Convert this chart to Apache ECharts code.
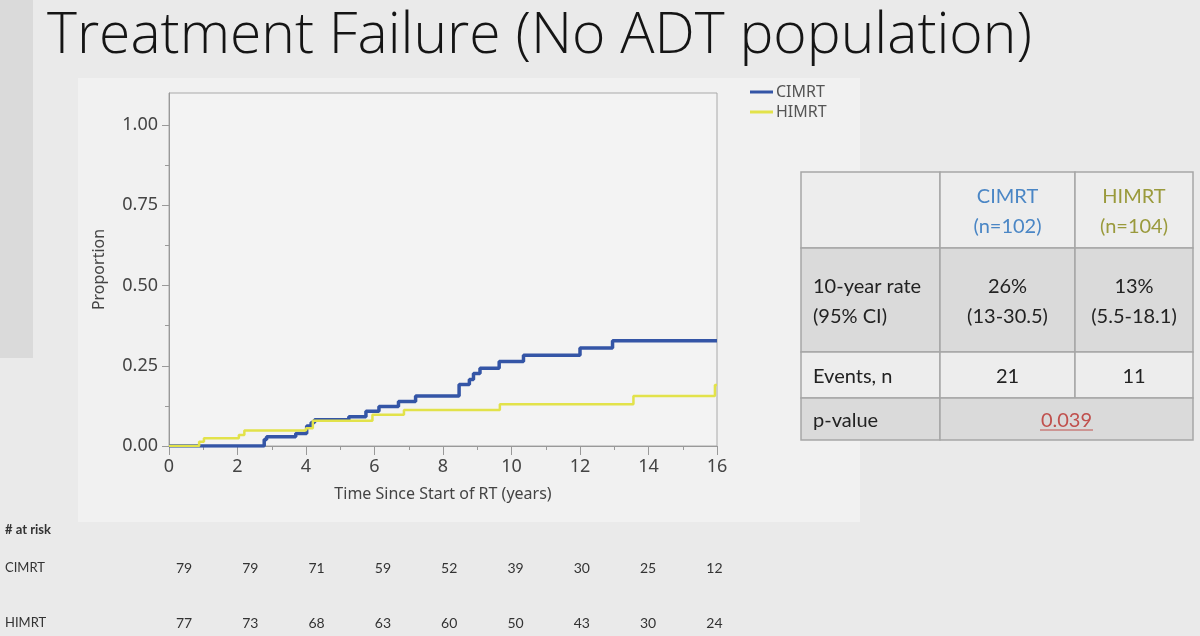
<!DOCTYPE html>
<html>
<head>
<meta charset="utf-8">
<script src="https://cdn.jsdelivr.net/npm/echarts@6/dist/echarts.min.js"></script>
<style>
  html, body { margin: 0; padding: 0; background: #eaeaea; }
  #chart { width: 1200px; height: 636px; }
</style>
</head>
<body>
<div id="chart"></div>
<script>
// step curves (time in years, cumulative proportion failed)
const cimrtTime = [0, 2.78, 2.85, 3.7, 4.02, 4.15, 4.25, 5.25, 5.75, 6.13, 6.7, 7.2, 8.47, 8.77, 8.89, 9.08, 9.64, 10.35, 12.0, 12.95, 16];
const cimrtValue = [0, 0.02, 0.029, 0.039, 0.062, 0.073, 0.082, 0.091, 0.108, 0.123, 0.139, 0.156, 0.192, 0.207, 0.226, 0.242, 0.263, 0.283, 0.305, 0.328, 0.328];
const himrtTime = [0, 0.88, 1.02, 2.04, 2.2, 4.0, 4.2, 5.94, 6.86, 9.66, 13.56, 15.94, 16];
const himrtValue = [0, 0.013, 0.024, 0.034, 0.048, 0.055, 0.079, 0.097, 0.112, 0.13, 0.156, 0.19, 0.19];

const yTicks = [0, 0.25, 0.5, 0.75, 1];
const yMinorTicks = [0.125, 0.375, 0.625, 0.875];

// summary table
const tableHead = ['', 'CIMRT\n(n=102)', 'HIMRT\n(n=104)'];
const tableRows = [
  ['10-year rate\n(95% CI)', '26%\n(13-30.5)', '13%\n(5.5-18.1)'],
  ['Events, n', '21', '11']
];
const pLabel = 'p-value';
const pValue = '0.039';

// numbers at risk
const atRiskCimrt = [79, 79, 71, 59, 52, 39, 30, 25, 12];
const atRiskHimrt = [77, 73, 68, 63, 60, 50, 43, 30, 24];

const pair = (xs, ys) => xs.map((x, i) => [x, ys[i]]);

const tableFont = 'Lato, "Open Sans", sans-serif';
const axisFont = '"Noto Sans", sans-serif';
const colX = [801, 940, 1075, 1193];
const rowY = [172, 248, 352, 398, 440];
const rowFill = ['#ededed', '#dadada', '#ededed', '#dadada'];
const headColor = ['#333', '#4a86c5', '#9a9a3c'];

const g = [];
// left sidebar and chart panel
g.push({ type: 'rect', shape: { x: 0, y: 0, width: 33, height: 358 }, style: { fill: '#dadada' }, z: -10 });
g.push({ type: 'rect', shape: { x: 78, y: 78, width: 782, height: 444 }, style: { fill: '#f1f1f1' }, z: -10 });

// table cells
function cell(x0, x1, y0, y1, fill, text, color, align) {
  g.push({ type: 'rect', shape: { x: x0, y: y0, width: x1 - x0, height: y1 - y0 },
    style: { fill: fill, stroke: '#a6a6a6', lineWidth: 1.5 }, z: 1 });
  g.push({ type: 'text', x: align === 'left' ? x0 + 12 : (x0 + x1) / 2, y: (y0 + y1) / 2 + 2,
    style: { text: text, fill: color, font: '20px ' + tableFont, align: align,
      verticalAlign: 'middle', lineHeight: 30 }, z: 2 });
}
tableHead.forEach((t, c) => cell(colX[c], colX[c + 1], rowY[0], rowY[1], rowFill[0], t, headColor[c], c === 0 ? 'left' : 'center'));
tableRows.forEach((row, r) => row.forEach((t, c) =>
  cell(colX[c], colX[c + 1], rowY[r + 1], rowY[r + 2], rowFill[r + 1], t, '#222', c === 0 ? 'left' : 'center')));
cell(colX[0], colX[1], rowY[3], rowY[4], rowFill[3], pLabel, '#222', 'left');
cell(colX[1], colX[3], rowY[3], rowY[4], rowFill[3], pValue, '#c0504d', 'center');
g.push({ type: 'line', shape: { x1: 1040, y1: 430, x2: 1093, y2: 430 }, style: { stroke: '#c0504d', lineWidth: 1.2 }, z: 3 });

// at-risk table
g.push({ type: 'text', x: 5, y: 530, style: { text: '# at risk', font: 'bold 13px ' + tableFont, fill: '#333', verticalAlign: 'middle' } });
g.push({ type: 'text', x: 5, y: 568, style: { text: 'CIMRT', font: '13px ' + tableFont, fill: '#333', verticalAlign: 'middle' } });
g.push({ type: 'text', x: 5, y: 623, style: { text: 'HIMRT', font: '13px ' + tableFont, fill: '#333', verticalAlign: 'middle' } });
atRiskCimrt.forEach((n, i) => g.push({ type: 'text', x: 184 + i * 66.3, y: 568,
  style: { text: String(n), font: '14px ' + tableFont, fill: '#333', align: 'center', verticalAlign: 'middle' } }));
atRiskHimrt.forEach((n, i) => g.push({ type: 'text', x: 184 + i * 66.3, y: 623,
  style: { text: String(n), font: '14px ' + tableFont, fill: '#333', align: 'center', verticalAlign: 'middle' } }));

const chart = echarts.init(document.getElementById('chart'));
chart.setOption({
  backgroundColor: '#eaeaea',
  animation: false,
  title: {
    text: 'Treatment Failure (No ADT population)',
    left: 42, top: 3,
    textStyle: { fontFamily: '"Open Sans", sans-serif', fontWeight: 300, fontSize: 57, color: '#151515' }
  },
  legend: {
    data: ['CIMRT', 'HIMRT'],
    orient: 'vertical',
    left: 745, top: 79,
    icon: 'rect', itemWidth: 23, itemHeight: 3, itemGap: 4,
    textStyle: { fontFamily: axisFont, fontSize: 16, color: '#555', padding: [0, 0, 0, -2] }
  },
  grid: {
    left: 169, right: 483, top: 93, bottom: 190,
    show: true, borderColor: '#a9a9a9', borderWidth: 1, backgroundColor: '#f3f3f3'
  },
  xAxis: {
    type: 'value', min: 0, max: 16, interval: 2,
    name: 'Time Since Start of RT (years)', nameLocation: 'middle', nameGap: 40,
    nameTextStyle: { fontFamily: axisFont, fontSize: 16, color: '#444' },
    axisLine: { show: true, lineStyle: { color: '#999' } },
    axisTick: { show: true, length: 9, lineStyle: { color: '#999' } },
    minorTick: { show: true, splitNumber: 2, length: 4, lineStyle: { color: '#999' } },
    splitLine: { show: false },
    axisLabel: { fontFamily: axisFont, fontSize: 18, color: '#444', margin: 12 }
  },
  yAxis: [
    {
      type: 'value', min: 0, max: 1.1,
      name: 'Proportion', nameLocation: 'middle', nameGap: 62, nameRotate: 90,
      nameTextStyle: { fontFamily: axisFont, fontSize: 16, color: '#444' },
      axisLine: { show: true, lineStyle: { color: '#999' } },
      axisTick: { show: true, length: 7, customValues: yTicks, lineStyle: { color: '#999' } },
      splitLine: { show: false },
      axisLabel: {
        customValues: yTicks, fontFamily: axisFont, fontSize: 18, color: '#444', margin: 11,
        formatter: v => v.toFixed(2)
      }
    },
    {
      // minor ticks only
      type: 'value', min: 0, max: 1.1, position: 'left',
      axisLine: { show: false },
      axisTick: { show: true, length: 4, customValues: yMinorTicks, lineStyle: { color: '#999' } },
      axisLabel: { show: false },
      splitLine: { show: false }
    }
  ],
  series: [
    {
      name: 'CIMRT', type: 'line', step: 'end', showSymbol: false,
      data: pair(cimrtTime, cimrtValue),
      itemStyle: { color: '#3455a6' },
      lineStyle: { color: '#3455a6', width: 3.5 }
    },
    {
      name: 'HIMRT', type: 'line', step: 'end', showSymbol: false,
      data: pair(himrtTime, himrtValue),
      itemStyle: { color: '#e2e24a' },
      lineStyle: { color: '#e2e24a', width: 2.5 }
    }
  ],
  graphic: g
});
</script>
</body>
</html>
